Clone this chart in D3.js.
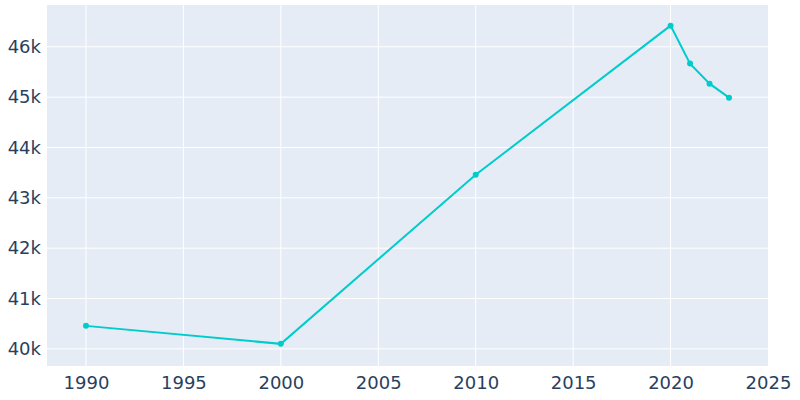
<!DOCTYPE html>
<html><head><meta charset="utf-8">
<script src="https://cdn.jsdelivr.net/npm/d3@7"></script>
<style>body{margin:0;background:#fff}</style>
</head><body>
<svg id="svg"></svg>
<script>
const years = [1990, 2000, 2010, 2020, 2021, 2022, 2023];
const population = [40457, 40100, 43460, 46420, 45666, 45268, 44990];
const xTicks = [1990, 1995, 2000, 2005, 2010, 2015, 2020, 2025];
const yTicks = [40000, 41000, 42000, 43000, 44000, 45000, 46000];

const width = 800, height = 400;
const mLeft = 47, mRight = 768, mTop = 5, mBottom = 366;

const svg = d3.select('#svg').attr('width', width).attr('height', height)
  .style('font-family', 'DejaVu Sans, sans-serif');

const x = d3.scaleLinear().domain([1988, 2025]).range([mLeft, mRight]);
const y = d3.scaleLinear().domain([39660, 46830]).range([mBottom, mTop]);

svg.append('rect').attr('x', mLeft).attr('y', mTop)
  .attr('width', mRight - mLeft).attr('height', mBottom - mTop).attr('fill', '#e5ecf6');

// Gridlines
svg.append('g').selectAll('line').data(xTicks.filter(t => t < 2025)).join('line')
  .attr('x1', d => x(d)).attr('x2', d => x(d)).attr('y1', mTop).attr('y2', mBottom)
  .attr('stroke', '#fff').attr('stroke-width', 1);
svg.append('g').selectAll('line').data(yTicks).join('line')
  .attr('x1', mLeft).attr('x2', mRight).attr('y1', d => y(d)).attr('y2', d => y(d))
  .attr('stroke', '#fff').attr('stroke-width', 1);

// Axes
const xAxis = svg.append('g').attr('transform', `translate(0,${mBottom})`)
  .call(d3.axisBottom(x).tickValues(xTicks).tickFormat(d3.format('d')).tickSize(0).tickPadding(10));
const yAxis = svg.append('g').attr('transform', `translate(${mLeft},0)`)
  .call(d3.axisLeft(y).tickValues(yTicks).tickFormat(d => d / 1000 + 'k').tickSize(0).tickPadding(6));
[xAxis, yAxis].forEach(a => {
  a.select('.domain').remove();
  a.selectAll('text').attr('fill', '#2a3f5f').attr('font-size', '18px')
    .style('font-family', 'DejaVu Sans, sans-serif');
});

const data = years.map((yr, i) => ({ yr, v: population[i] }));
svg.append('path').datum(data)
  .attr('d', d3.line().x(d => x(d.yr)).y(d => y(d.v)))
  .attr('fill', 'none').attr('stroke', '#00cccc').attr('stroke-width', 2);
svg.append('g').selectAll('circle').data(data).join('circle')
  .attr('cx', d => x(d.yr)).attr('cy', d => y(d.v)).attr('r', 3)
  .attr('fill', '#00cccc');
</script>
</body></html>
